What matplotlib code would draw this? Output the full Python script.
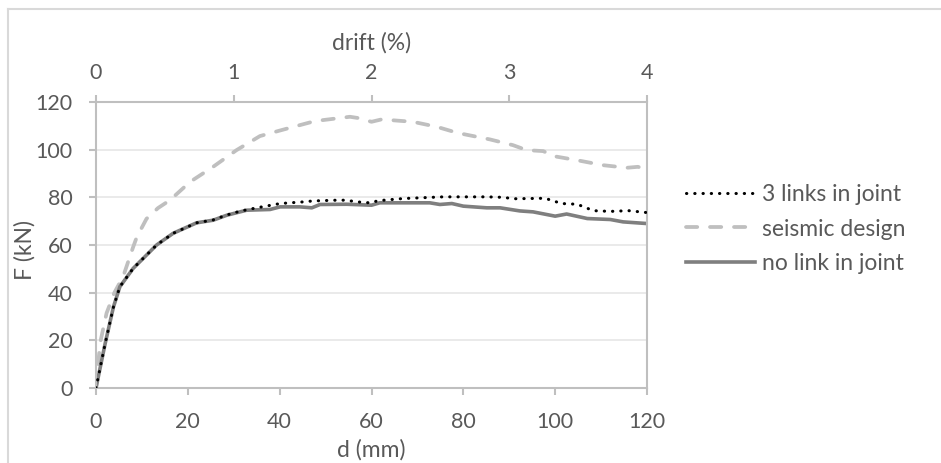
import matplotlib
matplotlib.use('Agg')
import matplotlib.pyplot as plt
from matplotlib.lines import Line2D

plt.rcParams['font.family'] = ['Lato', 'DejaVu Sans']

d_three = [0, 2, 3.8, 5.2, 8.1, 13.2, 16.8, 21.9, 25.5, 28.5, 31.4, 35, 40.1, 45.2, 47.3,
           52.4, 54.2, 57.9, 59.7, 61.5, 66.9, 75.6, 85.1, 88.7, 90.9, 97.8, 99.6,
           101.4, 104.8, 106.5, 108.3, 112, 116, 120]
f_three = [0, 18.7, 34, 42.5, 50.2, 60, 64.9, 69.3, 70.5, 72.6, 74.2, 75.6, 77.4, 78.1, 78.5,
           78.8, 78.8, 77.9, 77.7, 78.6, 79.5, 80.2, 80.2, 80, 79.4, 79.6, 78.5,
           77.4, 77.1, 75.8, 74.4, 74.1, 74.4, 73.6]

d_seis = [0, 0.9, 2.3, 4, 5.9, 8.1, 8.9, 11, 13.5, 16.1, 20.5, 25.5, 30.6, 35.7, 40, 44.4,
          47.7, 55.3, 57, 60, 62.2, 66.2, 69, 74.2, 78.8, 81.4, 85.8, 90.8, 93.8,
          97.4, 99.6, 104.7, 110.4, 115.6, 118, 120]
f_seis = [0, 18.9, 31.4, 40, 46.7, 59.2, 63.4, 71, 75.5, 78.8, 86.5, 92.8, 99.8, 105.7, 108, 110.3,
          112, 113.8, 113.3, 111.7, 112.7, 112.1, 111.7, 109.6, 107, 106, 104.3, 101.9, 99.8,
          99.4, 97.3, 95.6, 93.5, 92.4, 92.8, 91.8]

d_none = [0, 2, 3.8, 5.2, 8.1, 13.2, 16.8, 21.9, 25.5, 28.5, 32.8, 37.9, 40.1, 44.4, 47,
          48.8, 54.6, 60, 61.8, 72.7, 74.9, 77.5, 80, 85.1, 88, 92.3, 95.2, 100, 102.5,
          107, 112, 114.8, 120]
f_none = [0, 18.7, 34, 42.5, 50.2, 60, 64.9, 69.3, 70.4, 72.5, 74.6, 74.9, 76, 76, 75.6,
          77, 77.1, 76.7, 77.7, 77.7, 77, 77.4, 76.3, 75.6, 75.6, 74.3, 73.9, 72.1, 73,
          71.1, 70.7, 69.7, 69]

labels = ['3 links in joint', 'seismic design', 'no link in joint']
d_ticks = [0, 20, 40, 60, 80, 100, 120]
f_ticks = [0, 20, 40, 60, 80, 100, 120]
drift_ticks = [0, 1, 2, 3, 4]

txt = '#595959'
spine = '#BFBFBF'
fs_tick = 15.5
fs_lab = 16.5

fig = plt.figure(figsize=(9.41, 4.63), dpi=100)
ax = fig.add_axes([96/941, 1-388/463, (647-96)/941, (388-102)/463])

ax.plot(d_three, f_three, color='black', lw=2.2, linestyle=(0, (0.1, 2.6)),
        dash_capstyle='round', label=labels[0], zorder=3)
ax.plot(d_seis, f_seis, color='#BFBFBF', lw=2.7, linestyle=(0, (3, 3.4)),
        dash_capstyle='round', label=labels[1], zorder=2)
ax.plot(d_none, f_none, color='#7F7F7F', lw=2.6, label=labels[2], zorder=2)

ax.set_xlim(0, 120)
ax.set_ylim(0, 120)
ax.set_xticks(d_ticks)
ax.set_yticks(f_ticks)
ax.yaxis.grid(True, color='#E6E6E6', lw=1.2)
ax.set_axisbelow(True)
for s in ax.spines.values():
    s.set_color(spine)
    s.set_linewidth(1.5)
ax.tick_params(colors=spine, labelcolor=txt, labelsize=fs_tick, length=5, width=1.5)
ax.tick_params(axis='x', pad=12)
ax.tick_params(axis='y', pad=12)
ax.set_xlabel('d (mm)', fontsize=fs_lab, color=txt, va='center')
ax.xaxis.set_label_coords(0.5, (388-450)/286)
ax.set_ylabel('F (kN)', fontsize=fs_lab, color=txt, va='center')
ax.yaxis.set_label_coords((25-96)/551, (388-250)/286)

ax2 = ax.twiny()
ax2.set_xlim(0, 4)
ax2.set_xticks(drift_ticks)
for s in ax2.spines.values():
    s.set_visible(False)
ax2.tick_params(colors=spine, labelcolor=txt, labelsize=fs_tick, length=5, width=1.5, pad=9)
ax2.set_xlabel('drift (%)', fontsize=fs_lab, color=txt, va='center')
ax2.xaxis.set_label_coords(0.5, (388-43)/286)

leg = fig.legend(loc='center left', bbox_to_anchor=(686/941, 1-229/463), frameon=False,
                 fontsize=fs_lab, handlelength=3.0, handletextpad=0.3, labelspacing=0.6,
                 borderaxespad=0, borderpad=0)
for t in leg.get_texts():
    t.set_color(txt)

# chart border
fig.add_artist(Line2D([8/941, 1], [1-9/463, 1-9/463], color='#D9D9D9', lw=1.5))
fig.add_artist(Line2D([8/941, 8/941], [0, 1-9/463], color='#D9D9D9', lw=1.5))

fig.savefig('out.png', dpi=100)
